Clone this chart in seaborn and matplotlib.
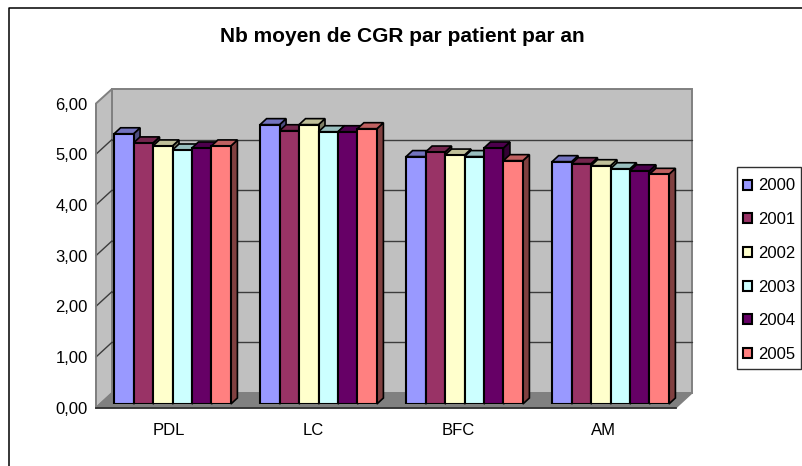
#!/usr/bin/env python3
"""Nb moyen de CGR par patient par an, 3D-look clustered bars."""

import matplotlib.pyplot as plt
import numpy as np
import pandas as pd
import seaborn as sns
from matplotlib.colors import to_rgb
from matplotlib.patches import Polygon, Rectangle
from matplotlib.ticker import FuncFormatter

W, H = 802, 466

SITES = ["PDL", "LC", "BFC", "AM"]
YEARS = ["2000", "2001", "2002", "2003", "2004", "2005"]
VALUES_2000 = [5.33, 5.51, 4.88, 4.78]
VALUES_2001 = [5.15, 5.39, 4.97, 4.74]
VALUES_2002 = [5.09, 5.51, 4.91, 4.70]
VALUES_2003 = [5.01, 5.37, 4.88, 4.64]
VALUES_2004 = [5.05, 5.37, 5.05, 4.60]
VALUES_2005 = [5.09, 5.43, 4.80, 4.53]
COLORS = ["#9999FF", "#993366", "#FFFFCC", "#CCFFFF", "#660066", "#FF8080"]
Y_TICKS = [0, 1, 2, 3, 4, 5, 6]

WALL = "#C0C0C0"
WALL_EDGE = "#808080"
PX_PER_UNIT = 50.7
PX_PER_SITE = 146
DEPTH_X = 6.5 / PX_PER_SITE
DEPTH_Y = 6 / PX_PER_UNIT


def px_axes(fig, left, top, right, bottom, **kwargs):
    """Axes placed by image pixels (origin top left)."""
    return fig.add_axes(
        [left / W, 1 - bottom / H, (right - left) / W, (bottom - top) / H], **kwargs
    )


def shade(color, factor):
    return tuple(c * factor for c in to_rgb(color))


def main():
    df = pd.DataFrame(
        {
            "site": SITES * len(YEARS),
            "year": np.repeat(YEARS, len(SITES)),
            "value": VALUES_2000
            + VALUES_2001
            + VALUES_2002
            + VALUES_2003
            + VALUES_2004
            + VALUES_2005,
        }
    )

    sns.set_theme(style="white")
    plt.rcParams["font.family"] = ["Liberation Sans", "DejaVu Sans"]
    plt.rcParams["font.size"] = 12
    plt.rcParams["text.color"] = "black"
    plt.rcParams["xtick.labelcolor"] = "black"
    plt.rcParams["ytick.labelcolor"] = "black"

    fig = plt.figure(figsize=(W / 100, H / 100), dpi=100)

    # walls, floor and chart frame, in image pixels
    bg = fig.add_axes([0, 0, 1, 1], zorder=0)
    bg.set_xlim(0, W)
    bg.set_ylim(H, 0)
    bg.axis("off")
    bg.plot([8.5, 8.5, W], [H, 8, 8], color="black", lw=1.1)
    bg.add_patch(
        Polygon(
            [(112, 89), (692, 89), (692, 393), (112, 393)],
            fc=WALL, ec=WALL_EDGE, lw=1.4,
        )
    )
    bg.add_patch(
        Polygon(
            [(96, 103.5), (112, 89), (112, 393), (96, 407.7)],
            fc=WALL, ec=WALL_EDGE, lw=1.4,
        )
    )
    bg.add_patch(
        Polygon(
            [(96, 407.7), (112, 393), (692, 393), (676, 407.7)],
            fc=WALL_EDGE, ec=WALL_EDGE, lw=1,
        )
    )
    for tick in Y_TICKS[1:-1]:
        back = 393 - tick * PX_PER_UNIT
        bg.plot([112, 692], [back, back], color="#3c3c3c", lw=1)
        bg.plot([96, 112], [back + 14.7, back], color="#3c3c3c", lw=1)
    bg.text(402, 37, "Nb moyen de CGR par patient par an", fontsize=15,
            fontweight="bold", ha="center", va="center", color="black")
    bg.add_patch(Rectangle((736.8, 167), 64.5, 202, fc="white", ec="#303030", lw=1))

    # front axis: ticks and labels
    axis = px_axes(fig, 96, 103.5, 676, 407.7, zorder=1)
    axis.patch.set_visible(False)
    axis.set_xlim(-0.5, 3.5)
    axis.set_ylim(0, 6)
    axis.set_yticks(Y_TICKS)
    axis.yaxis.set_major_formatter(
        FuncFormatter(lambda v, _: f"{v:.2f}".replace(".", ","))
    )
    axis.set_xticks(range(len(SITES)), SITES)
    axis.set_xticks(np.arange(-0.5, 4), minor=True)
    axis.tick_params(axis="x", which="major", length=0, pad=11, labelsize=12)
    axis.tick_params(axis="x", which="minor", length=4, width=1, color="#404040")
    axis.tick_params(axis="y", length=4, width=1, color="#404040", pad=2, labelsize=12)
    for name in ("top", "right"):
        axis.spines[name].set_visible(False)
    axis.spines["left"].set_color(WALL_EDGE)
    axis.spines["bottom"].set_color("#303030")
    axis.spines["bottom"].set_linewidth(1.3)

    # bars sit mid-depth on the floor
    ax = px_axes(fig, 99.5, 404 - 6 * PX_PER_UNIT, 683.5, 404, zorder=2)
    sns.barplot(
        data=df, x="site", y="value", hue="year", hue_order=YEARS, order=SITES,
        palette=COLORS, width=0.8, gap=0, saturation=1, edgecolor="black",
        linewidth=1.5, ax=ax,
    )
    ax.set_xlim(-0.5, 3.5)
    ax.set_ylim(0, 6)
    ax.patch.set_visible(False)
    handles, labels = ax.get_legend_handles_labels()
    ax.get_legend().remove()
    ax.axis("off")

    # top and side faces, painted left to right so each bar hides its neighbour
    for container, color in zip(ax.containers, COLORS):
        for bar in container:
            x0, x1 = bar.get_x(), bar.get_x() + bar.get_width()
            top = bar.get_height()
            order = 3 + x0 * 10
            bar.set_zorder(order + 0.1)
            ax.add_patch(
                Polygon(
                    [(x1, 0), (x1 + DEPTH_X, DEPTH_Y), (x1 + DEPTH_X, top + DEPTH_Y), (x1, top)],
                    fc=shade(color, 0.5), ec="black", lw=1.2, zorder=order, clip_on=False,
                )
            )
            ax.add_patch(
                Polygon(
                    [(x0, top), (x0 + DEPTH_X, top + DEPTH_Y), (x1 + DEPTH_X, top + DEPTH_Y), (x1, top)],
                    fc=shade(color, 0.75), ec="black", lw=1.2, zorder=order, clip_on=False,
                )
            )

    fig.legend(
        handles, labels, loc="upper left",
        bbox_to_anchor=(743 / W, 1 - 178.5 / H),
        bbox_transform=fig.transFigure, fontsize=12, frameon=False,
        borderaxespad=0, borderpad=0, labelspacing=1.12,
        handlelength=0.55, handleheight=0.55, handletextpad=0.35,
    )

    fig.savefig("out.png", dpi=100, facecolor="white")


if __name__ == "__main__":
    main()
